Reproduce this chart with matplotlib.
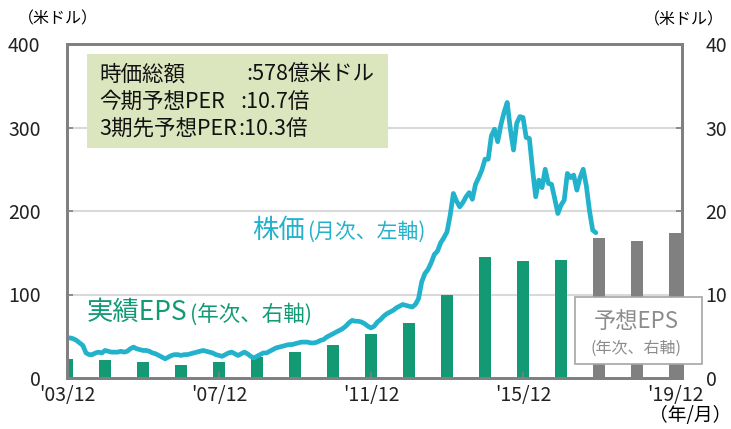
import numpy as np
import matplotlib.pyplot as plt
from matplotlib.patches import Rectangle

plt.rcParams['font.family'] = ['Noto Sans CJK JP', 'DejaVu Sans']

# monthly share price (USD), 2003/12 - 2017/11
price = [48, 48, 47, 45, 42, 39, 30, 28, 28, 30, 31, 30,
         33, 32, 31, 31, 31, 32, 31, 32, 35, 37, 35, 34,
         33, 33, 32, 30, 29, 27, 25, 23, 25, 27, 28, 28,
         27, 28, 28, 29, 30, 31, 32, 33, 32, 31, 30, 28,
         27, 26, 28, 30, 31, 29, 27, 29, 31, 29, 26, 24,
         26, 28, 30, 30, 32, 34, 36, 37, 38, 39, 40, 40,
         41, 42, 43, 43, 43, 42, 42, 43, 45, 46, 49, 51,
         53, 55, 57, 59, 62, 66, 69, 68, 68, 67, 65, 62,
         60, 62, 67, 70, 74, 77, 79, 81, 84, 86, 88, 87,
         86, 85, 88, 95, 115, 125, 130, 138, 148, 152, 162, 168,
         175, 195, 221, 212, 205, 210, 217, 222, 214, 232, 240, 249,
         262, 262, 290, 298, 283, 303, 318, 330, 298, 273, 305, 313,
         312, 288, 287, 250, 217, 237, 228, 250, 233, 232, 215, 197,
         207, 213, 245, 240, 243, 225, 240, 250, 230, 200, 177, 174]

# annual EPS (USD), actual 2003-2016, forecast 2017-2019
eps_years = list(range(2003, 2017))
eps_actual = [2.3, 2.2, 1.9, 1.6, 1.9, 2.5, 3.1, 3.95, 5.3, 6.6, 10.0, 14.5, 14.0, 14.1]
fc_years = [2017, 2018, 2019]
eps_forecast = [16.8, 16.4, 17.4]

tick_labels = ["'03/12", "'07/12", "'11/12", "'15/12", "'19/12"]

cyan = '#22B2CC'
green = '#139A74'
gray = '#808080'

t0 = 2003 + 11 / 12
t_price = t0 + np.arange(len(price)) / 12

fig = plt.figure(figsize=(7.31, 4.29), dpi=100)
W, H = 731, 429
ax = fig.add_axes([67 / W, (H - 378) / H, (682 - 67) / W, (378 - 44) / H])
ax2 = ax.twinx()

# bars on the right axis, behind the price line
ax.set_zorder(2)
ax.patch.set_visible(False)
ax2.set_zorder(1)

ax2.bar(np.array(eps_years) + 11 / 12, eps_actual, width=0.31, color=green)
ax2.bar(np.array(fc_years) + 11 / 12, eps_forecast, width=0.31, color=gray)
ax2.set_ylim(0, 40)
ax2.set_yticks([0, 10, 20, 30, 40])

ax.plot(t_price, price, color=cyan, lw=3.4, solid_joinstyle='round', solid_capstyle='round')
ax.set_ylim(0, 400)
ax.set_yticks([0, 100, 200, 300, 400])
ax.set_xlim(t0, 2020.1)
ax.set_xticks([t0 + 4 * i for i in range(5)])
ax.set_xticklabels(tick_labels)

for y in [100, 200, 300]:
    ax2.axhline(y / 10, color='#D9D9D9', lw=1.5, zorder=0)

for a in (ax, ax2):
    for s in a.spines.values():
        s.set_color(gray)
        s.set_linewidth(2)
    a.tick_params(direction='in', length=4, width=1.2, color=gray, labelsize=14,
                  labelcolor='#222222')
ax.tick_params(axis='y', pad=19)
ax.tick_params(axis='x', pad=5)
ax2.tick_params(axis='y', pad=17)

# info box
fig.patches.append(Rectangle((87 / W, (H - 148) / H), (388 - 87) / W, (148 - 54) / H,
                             transform=fig.transFigure, facecolor='#DCE6BE',
                             edgecolor='none', zorder=5))
info_left = ["時価総額", "今期予想PER", "3期先予想PER"]
info_right = [":578億米ドル", ":10.7倍", ":10.3倍"]
info_colon_x = [246, 240, 238]
for i, (l, r) in enumerate(zip(info_left, info_right)):
    y = (H - (75 + 27 * i)) / H
    fig.text(99 / W, y, l, fontsize=15.5, va='center', ha='left', zorder=6, color='#111111')
    fig.text(info_colon_x[i] / W, y, r, fontsize=15.5, va='center', ha='left', zorder=6,
             color='#111111')

# series labels
fig.text(252 / W, (H - 230) / H, "株価", fontsize=19, color=cyan, va='center')
fig.text(307 / W, (H - 232) / H, "(月次、左軸)", fontsize=15, color=cyan, va='center')
fig.text(87 / W, (H - 312) / H, "実績EPS", fontsize=19, color=green, va='center')
fig.text(190 / W, (H - 314) / H, "(年次、右軸)", fontsize=15.5, color=green, va='center')

# forecast label box
fig.patches.append(Rectangle((575 / W, (H - 364) / H), (702 - 575) / W, (364 - 297) / H,
                             transform=fig.transFigure, facecolor='white',
                             edgecolor='#A6A6A6', lw=1.2, zorder=5))
fig.text(636 / W, (H - 322) / H, "予想EPS", fontsize=16, color='#8C8C8C',
         ha='center', va='center', zorder=6)
fig.text(636 / W, (H - 348) / H, "(年次、右軸)", fontsize=11.5, color='#8C8C8C',
         ha='center', va='center', zorder=6)

# unit labels
fig.text(58 / W, (H - 19) / H, "（米ドル）", fontsize=11.5, ha='center', va='center')
fig.text(684 / W, (H - 20) / H, "（米ドル）", fontsize=11.5, ha='center', va='center')
fig.text(690 / W, (H - 416) / H, "（年/月）", fontsize=13.5, ha='center', va='center')

fig.savefig('out.png', dpi=100)
